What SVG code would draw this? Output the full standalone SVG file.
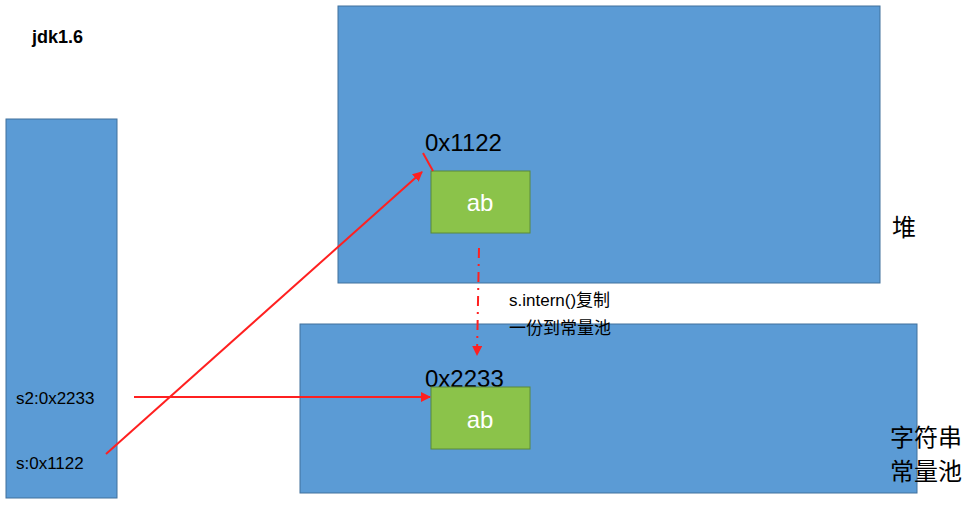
<svg xmlns="http://www.w3.org/2000/svg" width="980" height="505" viewBox="0 0 980 505">
<style>
.box{fill:#5b9bd5;stroke:#41719c;stroke-width:1}
.green{fill:#8bc34a;stroke:#5a8a3a;stroke-width:1}
.t{font-family:"Liberation Sans","Noto Sans CJK SC",sans-serif;fill:#000}
.w{font-family:"Liberation Sans",sans-serif;fill:#fff;font-size:24px}
.red{stroke:#ff2020;stroke-width:2;fill:none}
</style>
<defs><marker id="ah" markerWidth="10" markerHeight="10" refX="9" refY="5" orient="auto" markerUnits="userSpaceOnUse"><path d="M0,0 L10,5 L0,10 z" fill="#ff2020"/></marker></defs>
<rect width="980" height="505" fill="#fff"/>
<text class="t" x="32" y="43" font-size="18" font-weight="bold">jdk1.6</text>
<g id="stack"><rect class="box" x="6" y="119" width="111" height="379"/>
<text class="t" x="16" y="404" font-size="17">s2:0x2233</text>
<text class="t" x="16" y="469" font-size="17">s:0x1122</text></g>
<g id="heap"><rect class="box" x="338" y="6" width="542" height="277"/>
<text class="t" x="892" y="236" font-size="24">堆</text></g>
<g id="pool"><rect class="box" x="300" y="324" width="617" height="169"/>
<text class="t" x="890" y="446" font-size="24">字符串</text>
<text class="t" x="890" y="480" font-size="24">常量池</text></g>
<g id="ab1"><text class="t" x="425" y="151" font-size="24">0x1122</text>
<rect class="green" x="431" y="171" width="99" height="62"/><text class="w" x="480" y="211" text-anchor="middle">ab</text></g>
<g id="ab2"><text class="t" x="425" y="387" font-size="24">0x2233</text>
<rect class="green" x="431" y="387" width="99" height="62"/><text class="w" x="480" y="428" text-anchor="middle">ab</text></g>
<text class="t" x="509" y="306" font-size="17">s.intern()复制</text>
<text class="t" x="509" y="334" font-size="17">一份到常量池</text>
<g id="connectors">
<line class="red" x1="423" y1="153" x2="433" y2="171"/>
<line class="red" x1="106" y1="454" x2="422" y2="172" marker-end="url(#ah)"/>
<line class="red" x1="134" y1="397" x2="430" y2="397" marker-end="url(#ah)"/>
<line class="red" x1="479" y1="248" x2="477" y2="355" stroke-dasharray="10,6,2,6" marker-end="url(#ah)"/>
</g>
</svg>
